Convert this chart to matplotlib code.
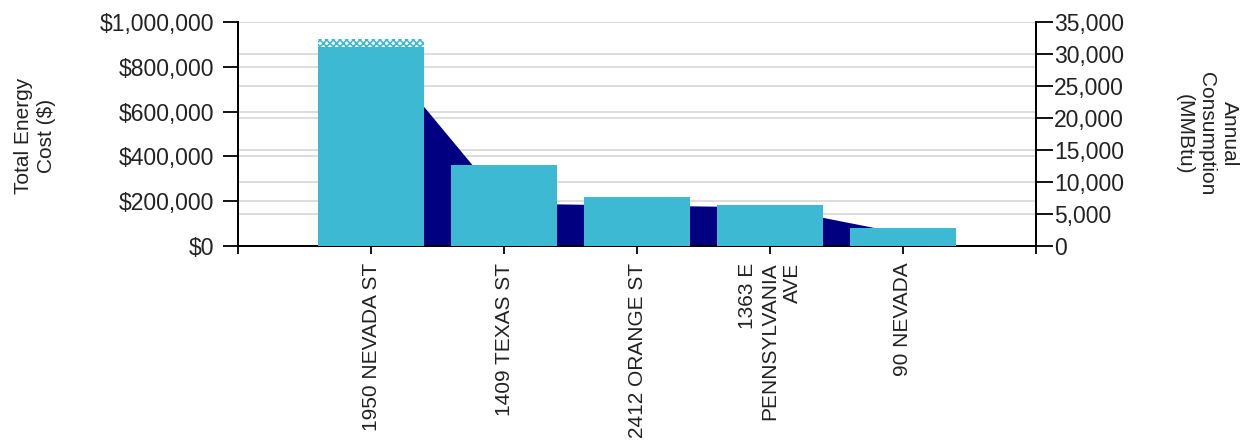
import numpy as np
import matplotlib.pyplot as plt
from matplotlib.ticker import FuncFormatter

plt.rcParams['font.family'] = ['Liberation Sans', 'DejaVu Sans']
plt.rcParams['hatch.linewidth'] = 1.2

# data
buildings = ["1950 NEVADA ST", "1409 TEXAS ST", "2412 ORANGE ST",
             "1363 E\nPENNSYLVANIA\nAVE", "90 NEVADA"]
cost = [888000, 362000, 219000, 183000, 80000]          # Total Energy Cost ($)
cost_extra = [36000, 0, 0, 0, 0]                        # checkered top segment
consumption = [31700, 6700, 6400, 6100, 2000]           # Annual Consumption (MMBtu)

cost_ticks = [0, 200000, 400000, 600000, 800000, 1000000]
cons_ticks = [0, 5000, 10000, 15000, 20000, 25000, 30000, 35000]

bar_color = "#3DB9D3"
area_color = "#000080"
grid_color = "#dadada"
text_color = "#222222"

fig = plt.figure(figsize=(12.41, 4.4), dpi=100)
# consumption axes at the bottom (area), cost axes on top (bars)
ax2 = fig.add_axes([0.1918, 0.4409, 0.643, 0.5091])
ax = ax2.twinx()
ax.yaxis.tick_left()
ax.yaxis.set_label_position("left")
ax2.yaxis.tick_right()

x = np.arange(len(buildings))

# area for consumption
ax2.fill_between(x, consumption, 0, color=area_color, lw=0, zorder=2)
ax2.set_ylim(0, 35000)
ax2.set_xlim(-1, 5)

# grid lines for both scales, drawn below everything
for v in cons_ticks:
    ax2.axhline(v, color=grid_color, lw=1.3, zorder=0)
for v in cost_ticks:
    ax2.axhline(v * 35000 / 1000000, color=grid_color, lw=1.3, zorder=0)

# bars for cost
ax.bar(x, cost, width=0.8, color=bar_color, lw=0, zorder=3)
ax.bar(x, cost_extra, width=0.8, bottom=cost, facecolor="white",
       edgecolor=bar_color, hatch="xxxxx", lw=0, zorder=3)
ax.set_ylim(0, 1000000)
ax.set_xlim(-1, 5)

ax.set_yticks(cost_ticks)
ax.yaxis.set_major_formatter(FuncFormatter(lambda v, p: "${:,.0f}".format(v)))
ax2.set_yticks(cons_ticks)
ax2.yaxis.set_major_formatter(FuncFormatter(lambda v, p: "{:,.0f}".format(v)))

ax2.set_xticks(x)
ax2.set_xticklabels(buildings, rotation=90, ha="center", va="top",
                    multialignment="right", fontsize=15, color=text_color)
ax2.set_xticks([-1, 5], minor=True)
ax2.tick_params(axis="x", which="both", direction="out", length=6, width=1.3,
                pad=6)
ax.tick_params(axis="x", bottom=False, labelbottom=False)

ax.tick_params(axis="y", direction="out", length=11, width=1.3, pad=6,
               labelsize=16.5, labelcolor=text_color)
ax2.tick_params(axis="y", direction="out", length=12, width=1.3, pad=1,
                labelsize=16.5, labelcolor=text_color)

for a in (ax, ax2):
    a.spines["top"].set_visible(False)
    for s in ("left", "right", "bottom"):
        a.spines[s].set_linewidth(1.3)
ax.patch.set_visible(False)

fig.text(35 / 1241, 1 - 136 / 440, "Total Energy\nCost ($)", rotation=90,
         ha="center", va="center", multialignment="center", fontsize=15,
         color=text_color, linespacing=1.25)
fig.text(1207 / 1241, 1 - 134 / 440, "Annual\nConsumption\n(MMBtu)",
         rotation=270, ha="center", va="center", multialignment="center",
         fontsize=15, color=text_color, linespacing=1.25)

fig.savefig("out.png", dpi=100)
